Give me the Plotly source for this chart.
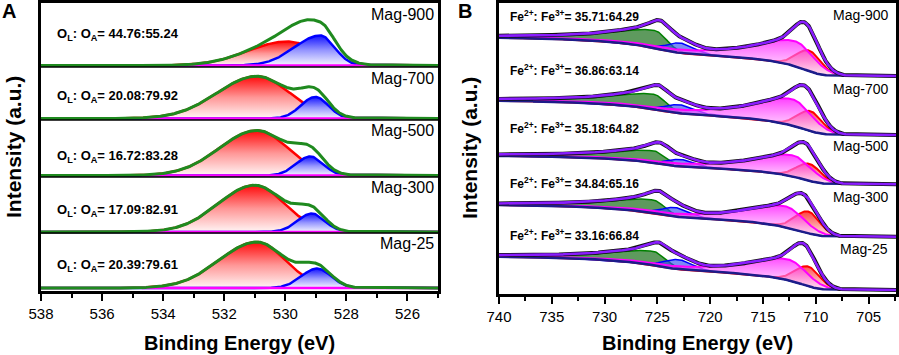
import numpy as np
import plotly.graph_objects as go

# ---------------- data ----------------
SAMPLES = ["Mag-900", "Mag-700", "Mag-500", "Mag-300", "Mag-25"]
OA_RATIO = ["44.76:55.24", "20.08:79.92", "16.72:83.28", "17.09:82.91", "20.39:79.61"]
FE_RATIO = ["35.71:64.29", "36.86:63.14", "35.18:64.82", "34.84:65.16", "33.16:66.84"]

# O 1s fitted peaks: (centre eV, height a.u., hwhm low-BE side, hwhm high-BE side)
O_ADS = [(529.95, 24.0, 1.20, 1.50),
         (530.93, 42.3, 1.27, 1.53),
         (530.93, 45.0, 1.21, 1.45),
         (531.00, 46.7, 1.15, 1.40),
         (530.93, 46.0, 1.10, 1.45)]
O_LAT = [(528.85, 30.0, 0.55, 1.00),
         (529.02, 21.6, 0.50, 0.55),
         (529.18, 19.0, 0.50, 0.55),
         (529.13, 18.4, 0.50, 0.55),
         (528.96, 19.4, 0.55, 0.60)]

# Fe 2p fitted peaks: (centre eV, height a.u., hwhm low-BE side, hwhm high-BE side)
FE2_P32 = [(710.6, 20.7, 1.3, 1.4),
           (710.5, 20.0, 1.3, 1.4),
           (710.6, 17.0, 1.3, 1.4),
           (710.7, 21.7, 1.3, 1.4),
           (710.7, 19.7, 1.3, 1.4)]
FE3_P32 = [(711.9, 25.0, 2.0, 4.3),
           (712.2, 26.3, 2.1, 4.3),
           (712.1, 21.0, 2.0, 4.3),
           (712.9, 20.7, 2.1, 4.3),
           (712.6, 20.7, 2.1, 4.3)]
FE2_P12 = [(722.8, 10.0, 1.6, 1.5),
           (722.9, 8.5, 1.7, 1.6),
           (722.8, 7.0, 1.6, 1.5),
           (723.3, 9.0, 1.6, 1.5),
           (723.0, 9.7, 1.6, 1.5)]
FE3_P12 = [(725.2, 17.5, 1.3, 4.5),
           (725.3, 15.0, 1.3, 4.5),
           (725.3, 12.0, 1.3, 4.5),
           (725.4, 13.0, 1.3, 4.5),
           (725.3, 13.8, 1.3, 4.5)]
# fitted peaks that enter the envelope but are not drawn separately
UNDRAWN_P32 = [(711.1, 6.0, 0.9, 1.2),
               (711.2, 4.5, 0.9, 1.2),
               (711.1, 4.0, 0.9, 1.2),
               (711.5, 5.4, 0.9, 1.2),
               (711.2, 8.0, 0.9, 1.2)]
UNDRAWN_P12 = [(724.5, 7.5, 1.0, 1.3),
               (724.8, 5.5, 1.0, 1.3),
               (724.6, 6.5, 1.0, 1.3),
               (724.8, 5.0, 1.0, 1.3),
               (724.8, 5.5, 1.0, 1.3)]
FE_STEP = [38.2, 34.2, 28.4, 31.6, 33.2]   # Shirley background step height

# ---------------- layout constants ----------------
W, H = 899, 355
A_X0, A_X1, A_Y0, A_Y1 = 41, 438, 3, 291
B_X0, B_X1, B_Y0, B_Y1 = 499, 896, 3, 294
A_OFFSET = [225.5, 172.5, 115.5, 59.1, 3.0]
A_SEPS = [224, 171, 114, 58]
B_OFFSET = [218.0, 159.0, 109.7, 57.3, 4.0]
FONT = "Liberation Sans, Arial, sans-serif"


def px(x):
    return x / W


def py(y):
    return 1 - y / H


def peak(x, p, lor_high=False):
    """split peak: Gaussian on the low-BE side, Gaussian or Lorentzian on the high-BE side"""
    c, h, wl, wh = p
    lo = h * np.exp(-np.log(2) * ((x - c) / wl) ** 2)
    if lor_high:
        hi = h / (1 + ((x - c) / wh) ** 2)
    else:
        hi = h * np.exp(-np.log(2) * ((x - c) / wh) ** 2)
    return np.where(x >= c, hi, lo)


fig = go.Figure()


def add_base(x, y, xa, ya):
    fig.add_trace(go.Scatter(x=x, y=y, mode="lines", line=dict(width=0, color="rgba(0,0,0,0)"),
                             hoverinfo="skip", showlegend=False, xaxis=xa, yaxis=ya))


def add_fill(x, base, yv, xa, ya, lcolor, lwidth, grad=None, fillcolor=None):
    add_base(x, base, xa, ya)
    kw = dict(fill="tonexty")
    if grad is not None:
        kw["fillgradient"] = dict(type="vertical", colorscale=grad)
    else:
        kw["fillcolor"] = fillcolor
    fig.add_trace(go.Scatter(x=x, y=yv, mode="lines", line=dict(color=lcolor, width=lwidth),
                             hoverinfo="skip", showlegend=False, xaxis=xa, yaxis=ya, **kw))


# ---------------- panel A : O 1s ----------------
xa = np.linspace(525, 538, 651)
xb_line = xa[xa <= 534.7]
for i in range(5):
    off = A_OFFSET[i]
    base = np.full_like(xa, off)
    red = peak(xa, O_ADS[i])
    blue = peak(xa, O_LAT[i])
    add_fill(xa, base, base + red, "x", "y", "#ff0000", 2.5,
             grad=[[0, "rgb(255,245,245)"], [0.5, "rgb(255,150,150)"], [1, "rgb(255,10,10)"]])
    add_fill(xa, base, base + blue, "x", "y", "#0000ff", 2.5,
             grad=[[0, "rgb(245,245,255)"], [0.5, "rgb(150,150,255)"], [1, "rgb(20,20,255)"]])
    fig.add_trace(go.Scatter(x=xb_line, y=np.full_like(xb_line, off), mode="lines",
                             line=dict(color="#ff00ff", width=2.5), hoverinfo="skip",
                             showlegend=False, xaxis="x", yaxis="y"))
    fig.add_trace(go.Scatter(x=xa, y=base + red + blue, mode="lines",
                             line=dict(color="#1f8a1f", width=3), hoverinfo="skip",
                             showlegend=False, xaxis="x", yaxis="y"))

# ---------------- panel B : Fe 2p ----------------
xb = np.linspace(702.4, 740, 941)
for i in range(5):
    off = B_OFFSET[i]
    r = peak(xb, FE2_P32[i])
    m = peak(xb, FE3_P32[i], lor_high=True)
    b = peak(xb, FE2_P12[i])
    g = peak(xb, FE3_P12[i], lor_high=True)
    s = r + m + b + g + peak(xb, UNDRAWN_P32[i]) + peak(xb, UNDRAWN_P12[i])
    cum = np.concatenate([[0], np.cumsum((s[1:] + s[:-1]) / 2 * np.diff(xb))])
    bg = off + FE_STEP[i] * cum / cum[-1]
    add_fill(xb, bg, bg + g, "x2", "y2", "#008000", 1.5, fillcolor="rgba(40,120,40,0.75)")
    add_fill(xb, bg, bg + b, "x2", "y2", "#0000ff", 1.5, fillcolor="rgba(50,80,240,0.65)")
    add_fill(xb, bg, bg + r, "x2", "y2", "#ff0000", 2.0,
             grad=[[0, "rgba(255,225,225,0.9)"], [1, "rgba(255,20,20,1)"]])
    add_fill(xb, bg, bg + m, "x2", "y2", "#ff00ff", 2.0,
             grad=[[0, "rgba(255,225,255,0.55)"], [1, "rgba(255,0,255,0.75)"]])
    fig.add_trace(go.Scatter(x=xb, y=bg, mode="lines", line=dict(color="#1c1c8a", width=2.5),
                             hoverinfo="skip", showlegend=False, xaxis="x2", yaxis="y2"))
    fig.add_trace(go.Scatter(x=xb, y=bg + s, mode="lines", line=dict(color="#111111", width=4),
                             hoverinfo="skip", showlegend=False, xaxis="x2", yaxis="y2"))
    fig.add_trace(go.Scatter(x=xb, y=bg + s, mode="lines", line=dict(color="#8a1cff", width=2.6),
                             hoverinfo="skip", showlegend=False, xaxis="x2", yaxis="y2"))

# ---------------- axes ----------------
axis_common = dict(showline=True, mirror=True, linecolor="black", linewidth=2.5,
                   showgrid=False, zeroline=False, automargin=False)
fig.update_layout(
    width=W, height=H, margin=dict(l=0, r=0, t=0, b=0, pad=0, autoexpand=False),
    paper_bgcolor="white", plot_bgcolor="white", showlegend=False,
    xaxis=dict(domain=[px(A_X0), px(A_X1)], range=[538, 525], anchor="y",
               ticks="outside", ticklen=7, tickwidth=1.5, tickcolor="black",
               tick0=538, dtick=2, minor=dict(dtick=1, ticks="outside", ticklen=4, tickwidth=1.5, tickcolor="black"),
               tickfont=dict(family=FONT, size=15, color="black"), **axis_common),
    yaxis=dict(domain=[py(A_Y1), py(A_Y0)], range=[0, A_Y1 - A_Y0], anchor="x",
               showticklabels=False, ticks="", **axis_common),
    xaxis2=dict(domain=[px(B_X0), px(B_X1)], range=[740, 702.4], anchor="y2",
                ticks="outside", ticklen=7, tickwidth=1.5, tickcolor="black",
                tick0=740, dtick=5, minor=dict(dtick=2.5, ticks="outside", ticklen=4, tickwidth=1.5, tickcolor="black"),
                tickfont=dict(family=FONT, size=15, color="black"), **axis_common),
    yaxis2=dict(domain=[py(B_Y1), py(B_Y0)], range=[0, B_Y1 - B_Y0], anchor="x2",
                showticklabels=False, ticks="", **axis_common),
)

for s in A_SEPS:
    fig.add_shape(type="line", xref="paper", yref="y", x0=px(A_X0), x1=px(A_X1), y0=s, y1=s,
                  line=dict(color="black", width=1.5))

ann = []
A_RATIO_Y = [35, 96.7, 156.7, 210, 265.7]
A_LABEL_Y = [14.5, 78.3, 130.7, 187.3, 243.3]
B_RATIO_Y = [16, 70, 128.3, 183.3, 235]
B_LABEL_Y = [15, 89.3, 145.7, 197.3, 249.3]
for i in range(5):
    ann.append(dict(x=px(55), y=py(A_RATIO_Y[i]), xref="paper", yref="paper", xanchor="left", yanchor="middle",
                    text="<b>O<sub>L</sub>: O<sub>A</sub>= " + OA_RATIO[i] + "</b>", showarrow=False,
                    font=dict(family=FONT, size=13, color="black")))
    ann.append(dict(x=px(435.5), y=py(A_LABEL_Y[i]), xref="paper", yref="paper", xanchor="right", yanchor="middle",
                    text=SAMPLES[i], showarrow=False, font=dict(family=FONT, size=16, color="black")))
    ann.append(dict(x=px(508), y=py(B_RATIO_Y[i]), xref="paper", yref="paper", xanchor="left", yanchor="middle",
                    text="<b>Fe<sup>2+</sup>: Fe<sup>3+</sup>= " + FE_RATIO[i] + "</b>", showarrow=False,
                    font=dict(family=FONT, size=12, color="black")))
    ann.append(dict(x=px(890), y=py(B_LABEL_Y[i]), xref="paper", yref="paper", xanchor="right", yanchor="middle",
                    text=SAMPLES[i], showarrow=False, font=dict(family=FONT, size=14, color="black")))

for cx in [(A_X0 + A_X1) / 2, (B_X0 + B_X1) / 2]:
    ann.append(dict(x=px(cx), y=py(343), xref="paper", yref="paper", xanchor="center", yanchor="middle",
                    text="<b>Binding Energy (eV)</b>", showarrow=False,
                    font=dict(family=FONT, size=20, color="black")))
for cx, cy in [(13, 147), (469, 148)]:
    ann.append(dict(x=px(cx), y=py(cy), xref="paper", yref="paper", xanchor="center", yanchor="middle",
                    text="<b>Intensity (a.u.)</b>", textangle=-90, showarrow=False,
                    font=dict(family=FONT, size=21, color="black")))
for t, cx in [("A", 9), ("B", 465)]:
    ann.append(dict(x=px(cx), y=py(11.5), xref="paper", yref="paper", xanchor="center", yanchor="middle",
                    text="<b>" + t + "</b>", showarrow=False, font=dict(family=FONT, size=20, color="black")))
fig.update_layout(annotations=ann)

fig.write_html("out.html", config={"displayModeBar": False},
               post_script="document.body.style.margin='0px';document.body.style.padding='0px';")
